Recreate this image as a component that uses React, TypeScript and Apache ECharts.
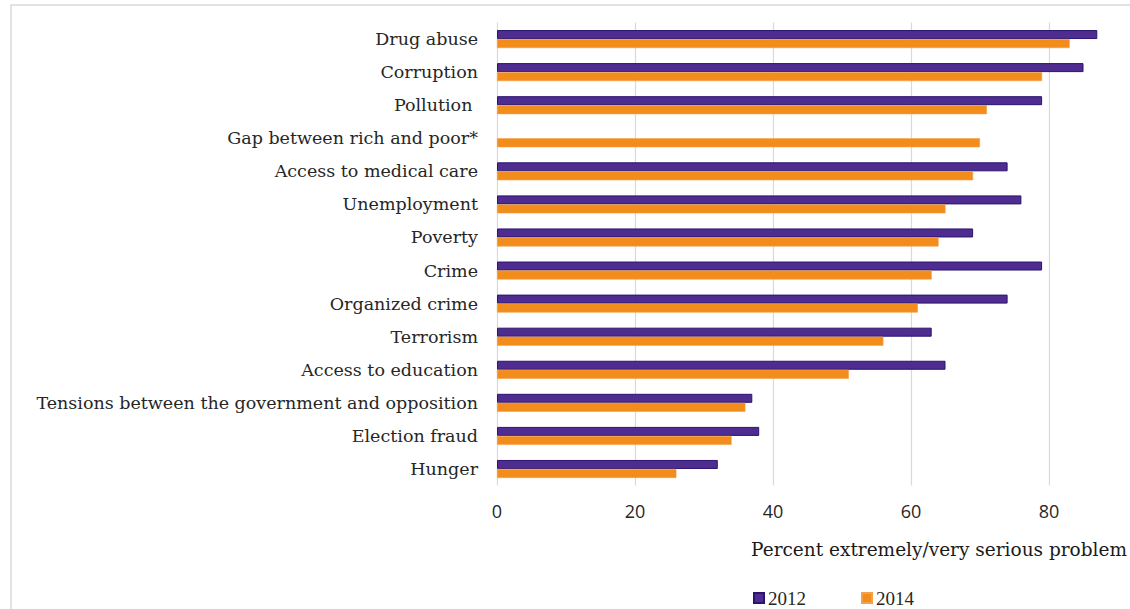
import React, { useEffect, useRef } from "react";
import * as echarts from "echarts";

const categories = [
  "Drug abuse",
  "Corruption",
  "Pollution ",
  "Gap between rich and poor*",
  "Access to medical care",
  "Unemployment",
  "Poverty",
  "Crime",
  "Organized crime",
  "Terrorism",
  "Access to education",
  "Tensions between the government and opposition",
  "Election fraud",
  "Hunger",
];

const values2012: (number | null)[] = [87, 85, 79, null, 74, 76, 69, 79, 74, 63, 65, 37, 38, 32];
const values2014: number[] = [83, 79, 71, 70, 69, 65, 64, 63, 61, 56, 51, 36, 34, 26];

const xTicks = [0, 20, 40, 60, 80];
const seriesNames = ["2012", "2014"];
const axisTitle = "Percent extremely/very serious problem";

const SERIF = "'DejaVu Serif', serif";
const LEGEND_SERIF = "'Liberation Serif', serif";
const SANS = "'Open Sans', sans-serif";

export default function App() {
  const ref = useRef<HTMLDivElement>(null);

  useEffect(() => {
    if (!ref.current) return;
    const chart = echarts.init(ref.current, null, { renderer: "svg" });
    chart.setOption({
      animation: false,
      backgroundColor: "#ffffff",
      grid: { left: 497, top: 22.5, width: 552, height: 463, containLabel: false },
      xAxis: {
        type: "value",
        min: xTicks[0],
        max: xTicks[xTicks.length - 1],
        interval: xTicks[1] - xTicks[0],
        axisLine: { show: false },
        axisTick: { show: false },
        splitLine: { show: true, lineStyle: { color: "#d9d9d9", width: 1.2 } },
        axisLabel: { fontFamily: SANS, fontSize: 18, color: "#262626", margin: 16 },
      },
      yAxis: {
        type: "category",
        inverse: true,
        data: categories,
        axisLine: { show: false },
        axisTick: { show: false },
        axisLabel: { fontFamily: SERIF, fontSize: 17.5, color: "#262626", margin: 19 },
      },
      legend: {
        left: 753,
        top: 588,
        padding: 0,
        itemWidth: 10,
        itemHeight: 10,
        itemGap: 55,
        icon: "rect",
        textStyle: {
          fontFamily: LEGEND_SERIF,
          fontSize: 19,
          lineHeight: 20,
          color: "#262626",
          padding: [0, 0, 0, -1],
        },
        data: seriesNames,
      },
      graphic: [
        {
          type: "rect",
          shape: { x: 11, y: 5, width: 1140, height: 640 },
          style: { fill: "none", stroke: "#d9d9d9", lineWidth: 1.5 },
          silent: true,
          z: -10,
        },
        {
          type: "text",
          x: 1127,
          y: 549,
          style: {
            text: axisTitle,
            fontFamily: SERIF,
            fontSize: 18.5,
            fill: "#1a1a1a",
            textAlign: "right",
            textVerticalAlign: "middle",
          },
        },
      ],
      series: [
        {
          name: seriesNames[0],
          type: "bar",
          data: values2012,
          barWidth: 9,
          barGap: "0%",
          clip: false,
          itemStyle: { color: "#4f2c90", borderColor: "#2a1470", borderWidth: 1 },
        },
        {
          name: seriesNames[1],
          type: "bar",
          data: values2014,
          barWidth: 9,
          barGap: "0%",
          clip: false,
          itemStyle: { color: "#f28c1b", borderColor: "#f5a04a", borderWidth: 0.6 },
        },
      ],
    });
    return () => chart.dispose();
  }, []);

  return (
    <div
      ref={ref}
      style={{ position: "fixed", left: 0, top: 0, width: 1130, height: 609 }}
    />
  );
}
